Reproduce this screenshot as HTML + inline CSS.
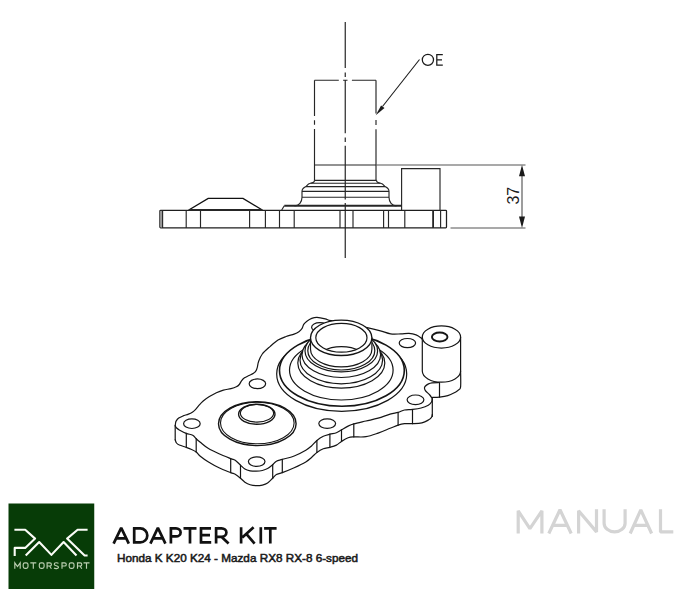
<!DOCTYPE html>
<html><head><meta charset="utf-8">
<style>
html,body{margin:0;padding:0;background:#fff;width:686px;height:600px;overflow:hidden}
svg{position:absolute;left:0;top:0}
</style></head>
<body>
<svg width="686" height="600" viewBox="0 0 686 600">
<defs>
<clipPath id="boreclip"><ellipse cx="341.4" cy="337.8" rx="25.6" ry="14.4"/></clipPath>
</defs>
<!-- ============ TOP 2D VIEW ============ -->
<g fill="none" stroke="#262626" stroke-width="1.15">
  <path d="M345.25 22V68M345.25 72.5V77M345.25 80V133.3M345.25 137.5V142M345.25 145.8V199.5M345.25 203V258" stroke-width="1.2"/>
  <path d="M314.5 80.2H338.8M343.1 80.2H347.5M351.9 80.2H376"/>
  <path d="M314.5 80.2V116.1M314.5 120.2V124.8M314.5 128.9V180.3"/>
  <path d="M376 80.2V113.4M376 120.1V125.1M376 129.2V180.3"/>
  <path d="M314.5 165H376"/><path d="M376 165H525.5" stroke="#555"/>
  <path d="M314.5 180.3H376.5M310.5 183.2H380.5M306 186.6H385M302 191.4H389M302 197.2H389"/>
  <path d="M314.5 180.3C314.5 182 313 183 310.5 183.2C308 183.5 307 185.5 306 186.6C303 188 302 190 302 191.4V197.2C302 202 299 205.8 294.5 205.8"/>
  <path d="M376.5 180.3C376.5 182 378 183 380.5 183.2C383 183.5 384 185.5 385 186.6C388 188 389 190 389 191.4V197.2C389 202 392 205.8 396.5 205.8"/>
  <path d="M284.3 205.8H401.6" stroke-width="2"/>
  <path d="M281.7 210L284.3 205.8"/>
  <rect x="159.9" y="210.3" width="286.6" height="17.6" rx="0.8" stroke="#1e1e1e" stroke-width="1.25"/>
  <path d="M162.6 210.3V227.9"/>
  <path d="M186.2 210V228M200.5 210V228M249.6 210V228M265.4 210V228M279.5 210V228M294.2 210V228M340 210V228M353 210V228M383.6 210V228M388.5 210V228M404.8 210V228M440.6 210V228"/>
  <path d="M433.1 210V228" stroke-width="1.8"/>
  <path d="M188.8 210L208.2 198.4H243L262.3 210" stroke="#111" stroke-width="1.4"/>
  <path d="M188.8 210H262.3" stroke-width="2"/>
  <path d="M401.6 210V168.6H440V210"/>
  <path d="M450.5 228H525.5" stroke="#555"/>
  <path d="M522 175V218" stroke="#555"/>
</g>
<rect x="160.5" y="210.9" width="1.5" height="16.4" fill="#999"/>
<g fill="#1a1a1a">
  <path d="M522 165L519 176.2H525Z"/>
  <path d="M522 228L519 216.5H525Z"/>
  <path d="M375.75 115.25L381.1 105.5L384.5 107.9Z"/>
</g>
<path d="M419.5 59.5L382.5 106.5" stroke="#1a1a1a" stroke-width="1.1" fill="none"/>
<g fill="none" stroke="#1a1a1a" stroke-width="1.25"><ellipse cx="427.9" cy="59.85" rx="5.6" ry="5.6"/><path d="M442.8 54.7H436.8V65H442.8M436.8 59.8H442"/></g>
<text transform="translate(518.7 204.6) rotate(-90)" font-family="Liberation Sans, sans-serif" font-size="16" fill="#1a1a1a">37</text>

<!-- ============ 3D VIEW ============ -->
<g fill="#fff" stroke="#151515" stroke-width="1.2" stroke-linejoin="round" stroke-linecap="round">
  <path fill="none" d="M175.20 439.80C175.42 440.33 175.82 442.13 176.50 443.00C177.18 443.87 177.67 444.27 179.30 445.00C180.93 445.73 184.35 446.70 186.30 447.40C188.25 448.10 189.35 448.43 191.00 449.20C192.65 449.97 194.65 450.83 196.20 452.00C197.75 453.17 198.25 454.53 200.30 456.20C202.35 457.87 205.38 460.07 208.50 462.00C211.62 463.93 215.30 466.03 219.00 467.80C222.70 469.57 228.00 471.52 230.70 472.60C233.40 473.68 233.57 473.37 235.20 474.30C236.83 475.23 238.88 476.88 240.50 478.20C242.12 479.52 243.30 481.10 244.90 482.20C246.50 483.30 248.22 484.22 250.10 484.80C251.98 485.38 254.15 485.65 256.20 485.70C258.25 485.75 260.50 485.53 262.40 485.10C264.30 484.67 265.88 484.25 267.60 483.10C269.32 481.95 271.23 479.63 272.70 478.20C274.17 476.77 274.80 475.43 276.40 474.50C278.00 473.57 279.33 473.73 282.30 472.60C285.27 471.47 290.28 469.48 294.20 467.70C298.12 465.92 302.92 463.60 305.80 461.90C308.68 460.20 309.65 459.08 311.50 457.50C313.35 455.92 314.93 453.87 316.90 452.40C318.87 450.93 321.13 449.55 323.30 448.70C325.47 447.85 327.72 447.90 329.90 447.30C332.08 446.70 334.47 446.08 336.40 445.10C338.33 444.12 339.55 442.62 341.50 441.40C343.45 440.18 346.05 438.55 348.10 437.80C350.15 437.05 350.82 437.08 353.80 436.90C356.78 436.72 361.95 437.33 366.00 436.70C370.05 436.07 374.08 434.50 378.10 433.10C382.12 431.70 386.77 429.63 390.10 428.30C393.43 426.97 395.70 425.87 398.10 425.10C400.50 424.33 402.10 423.93 404.50 423.70C406.90 423.47 409.60 423.83 412.50 423.70C415.40 423.57 419.27 423.50 421.90 422.90C424.53 422.30 426.70 421.03 428.30 420.10C429.90 419.17 430.83 418.23 431.50 417.30C432.17 416.37 432.17 414.97 432.30 414.50"/>
  <path fill="none" d="M175.20 425.80C175.43 426.17 175.92 427.32 176.60 428.00C177.28 428.68 177.68 429.00 179.30 429.90C180.92 430.80 184.07 432.52 186.30 433.40C188.53 434.28 191.05 434.32 192.70 435.20C194.35 436.08 194.93 437.53 196.20 438.70C197.47 439.87 198.25 440.55 200.30 442.20C202.35 443.85 205.38 446.67 208.50 448.60C211.62 450.53 215.30 452.13 219.00 453.80C222.70 455.47 228.00 457.52 230.70 458.60C233.40 459.68 233.57 459.22 235.20 460.30C236.83 461.38 238.88 463.63 240.50 465.10C242.12 466.57 243.30 468.15 244.90 469.10C246.50 470.05 248.22 470.45 250.10 470.80C251.98 471.15 254.15 471.25 256.20 471.20C258.25 471.15 260.50 470.93 262.40 470.50C264.30 470.07 265.88 469.57 267.60 468.60C269.32 467.63 271.23 465.93 272.70 464.70C274.17 463.47 274.80 462.08 276.40 461.20C278.00 460.32 279.33 460.27 282.30 459.40C285.27 458.53 290.28 457.53 294.20 456.00C298.12 454.47 302.92 451.87 305.80 450.20C308.68 448.53 309.65 447.62 311.50 446.00C313.35 444.38 314.93 442.12 316.90 440.50C318.87 438.88 321.13 437.35 323.30 436.30C325.47 435.25 327.72 434.80 329.90 434.20C332.08 433.60 334.47 433.43 336.40 432.70C338.33 431.97 339.55 430.90 341.50 429.80C343.45 428.70 346.05 427.08 348.10 426.10C350.15 425.12 350.82 424.75 353.80 423.90C356.78 423.05 361.95 421.95 366.00 421.00C370.05 420.05 374.08 419.33 378.10 418.20C382.12 417.07 386.77 415.18 390.10 414.20C393.43 413.22 395.70 413.00 398.10 412.30C400.50 411.60 402.10 410.48 404.50 410.00C406.90 409.52 409.73 409.73 412.50 409.40C415.27 409.07 418.47 408.70 421.10 408.00C423.73 407.30 426.57 406.20 428.30 405.20C430.03 404.20 430.83 403.07 431.50 402.00C432.17 400.93 432.17 399.33 432.30 398.80"/>
  <path fill="none" d="M175.20 425.80V439.80M186.30 433.40V447.40M196.20 438.70V452.00M230.70 458.60V472.60M240.50 465.10V478.20M272.70 464.70V478.20M282.30 459.40V472.60M316.90 440.50V452.40M329.90 434.20V447.30M341.50 429.80V441.40M353.80 423.90V436.90M398.10 412.50V425.30M412.50 409.60V423.70M432.30 398.80V416.50M439.50 382.50V397.20"/>
  <path fill="none" d="M175.20 425.80C175.27 425.33 175.45 423.78 175.60 423.00C175.75 422.22 175.58 421.92 176.10 421.10C176.62 420.28 177.53 418.97 178.70 418.10C179.87 417.23 181.48 416.57 183.10 415.90C184.72 415.23 186.80 414.77 188.40 414.10C190.00 413.43 191.53 412.63 192.70 411.90C193.87 411.17 194.37 410.78 195.40 409.70C196.43 408.62 197.60 406.85 198.90 405.40C200.20 403.95 201.45 402.47 203.20 401.00C204.95 399.53 207.20 397.98 209.40 396.60C211.60 395.22 214.07 393.78 216.40 392.70C218.73 391.62 220.97 390.78 223.40 390.10C225.83 389.42 228.85 389.15 231.00 388.60C233.15 388.05 234.92 387.48 236.30 386.80C237.68 386.12 238.43 385.50 239.30 384.50C240.17 383.50 240.63 381.92 241.50 380.80C242.37 379.68 243.25 378.68 244.50 377.80C245.75 376.92 247.50 376.25 249.00 375.50C250.50 374.75 252.32 374.12 253.50 373.30C254.68 372.48 255.47 371.60 256.10 370.60C256.73 369.60 256.88 368.82 257.30 367.30C257.72 365.78 257.77 363.72 258.60 361.50C259.43 359.28 260.40 356.48 262.30 354.00C264.20 351.52 267.38 348.92 270.00 346.60C272.62 344.28 275.32 341.78 278.00 340.10C280.68 338.42 283.42 337.50 286.10 336.50C288.78 335.50 291.97 334.90 294.10 334.10C296.23 333.30 297.57 332.65 298.90 331.70C300.23 330.75 301.30 329.62 302.10 328.40C302.90 327.18 302.90 325.60 303.70 324.40C304.50 323.20 305.57 322.20 306.90 321.20C308.23 320.20 310.02 319.03 311.70 318.40C313.38 317.77 314.75 317.33 317.00 317.40C319.25 317.47 322.87 318.25 325.20 318.80C327.53 319.35 326.87 319.83 331.00 320.70C335.13 321.57 343.80 322.82 350.00 324.00C356.20 325.18 363.13 326.67 368.20 327.80C373.27 328.93 376.67 329.78 380.40 330.80C384.13 331.82 387.20 333.38 390.60 333.90C394.00 334.42 397.73 333.98 400.80 333.90C403.87 333.82 406.45 333.23 409.00 333.40C411.55 333.57 414.07 334.13 416.10 334.90C418.13 335.67 420.17 337.23 421.20 338.00C422.23 338.77 422.12 339.25 422.30 339.50"/>
  <path fill="none" d="M460.60 371.00C460.60 373.65 460.95 383.73 460.60 386.90C460.25 390.07 459.30 389.15 458.50 390.00C457.70 390.85 457.58 391.07 455.80 392.00C454.02 392.93 450.53 394.75 447.80 395.60C445.07 396.45 441.95 396.80 439.40 397.10C436.85 397.40 433.65 397.35 432.50 397.40"/>
  <path fill="none" d="M439.50 382.50C438.25 382.55 433.83 382.57 432.00 382.80C430.17 383.03 429.67 383.28 428.50 383.90C427.33 384.52 425.67 385.73 425.00 386.50C424.33 387.27 424.38 387.75 424.50 388.50C424.62 389.25 424.82 389.92 425.70 391.00C426.58 392.08 428.70 393.70 429.80 395.00C430.90 396.30 431.88 398.17 432.30 398.80"/>
  <ellipse cx="191.9" cy="423.7" rx="8.3" ry="4.8"/>
  <ellipse cx="257.4" cy="383.8" rx="8.25" ry="4.85"/>
  <ellipse cx="256.7" cy="461.6" rx="8.3" ry="4.8"/>
  <ellipse cx="327.2" cy="423.6" rx="8.4" ry="4.8"/>
  <ellipse cx="319.8" cy="327.3" rx="8.2" ry="4.7"/>
  <ellipse cx="407.4" cy="343.1" rx="8.2" ry="4.6"/>
  <ellipse cx="415.5" cy="399.8" rx="8.4" ry="4.8"/>
  <ellipse cx="257.3" cy="423.65" rx="38.8" ry="21.95" stroke-width="1.4"/>
  <ellipse cx="257.3" cy="423" rx="36.8" ry="20.8" fill="none" stroke-width="1.1"/>
  <ellipse cx="256.8" cy="414.2" rx="18.2" ry="10" stroke-width="1.4"/>
  <ellipse cx="257" cy="413.3" rx="16.6" ry="8.8" fill="none" stroke-width="1.1"/>
  <ellipse cx="341.7" cy="374" rx="65" ry="37.3"/>
  <ellipse cx="341.9" cy="370.4" rx="62.4" ry="35.8" stroke-width="1.6"/>
  <ellipse cx="341.3" cy="370.1" rx="51.8" ry="29.9"/>
  <ellipse cx="341.3" cy="363" rx="43.5" ry="25.1"/>
  <ellipse cx="341.3" cy="360" rx="41.3" ry="23.8"/>
  <ellipse cx="341.3" cy="354.8" rx="39.3" ry="22.7"/>
  <ellipse cx="341.3" cy="350.9" rx="36.3" ry="21"/>
  <ellipse cx="341.3" cy="350.7" rx="33.5" ry="19.3"/>
  <path d="M310.5 337.8V349.2A30.7 17.7 0 0 0 371.9 349.2V337.8Z"/>
  <ellipse cx="341.2" cy="337.8" rx="30.7" ry="17.7" stroke-width="1.35"/>
  <ellipse cx="341.4" cy="337.8" rx="25.6" ry="14.4"/>
  <ellipse cx="341.4" cy="361.1" rx="25.6" ry="14.4" fill="none" clip-path="url(#boreclip)"/>
  <path d="M422.3 337V371.1A19.15 11.1 0 0 0 460.6 371.1V337Z"/>
  <ellipse cx="441.45" cy="337" rx="19.15" ry="11.1"/>
  <ellipse cx="439.7" cy="337" rx="7.8" ry="4.5" stroke-width="1.9"/>
</g>

<!-- ============ FOOTER ============ -->
<rect x="8.5" y="503.5" width="85.75" height="85.5" fill="#073c07"/>
<g fill="none" stroke="#fbfdf8" stroke-width="2.1" stroke-linejoin="round">
  <path d="M14.4 529.8H25.2L35.1 538.6L25.2 547.9H14.7V556"/>
  <path d="M25.7 555.5L39.2 542L51.4 554.9L63.6 542L76.5 555.5"/>
  <path d="M87.6 529.8H77.6L67.1 538.6L84.6 555.5H87.6"/>
</g>
<g fill="none" stroke="#bccfb2" stroke-width="1.15">
  <path d="M14.8 568.8V562.8L17.5 566.6L20.2 562.8V568.8"/>
  <rect x="23.2" y="562.8" width="4.8" height="5.5" rx="1.8"/>
  <path d="M30.3 562.8H36.3M33.3 562.8V568.8"/>
  <rect x="39.3" y="562.8" width="4.8" height="5.5" rx="1.8"/>
  <path d="M47.1 568.8V562.8H49.8A1.6 1.6 0 0 1 49.8 566H47.1M49.6 566L51.4 568.8"/>
  <path d="M58.5 563.4C57.6 562.6 54.2 562.3 54.2 564.3C54.2 566 58.5 565.4 58.5 567.2C58.5 569 55 568.8 54 568"/>
  <path d="M62 568.8V562.8H64.6A1.7 1.6 0 0 1 64.6 566H62"/>
  <rect x="69.2" y="562.8" width="4.8" height="5.5" rx="1.8"/>
  <path d="M77.5 568.8V562.8H80.2A1.6 1.6 0 0 1 80.2 566H77.5M80 566L81.8 568.8"/>
  <path d="M83.5 562.8H89.5M86.5 562.8V568.8"/>
</g>
<g fill="none" stroke="#111" stroke-width="2.7" stroke-linejoin="bevel">
  <path d="M113.6 543.6L121.2 527.9L128.8 543.6M116.6 538.3H125.8"/>
  <path d="M134.2 527.2V543.6M133 528.4H140.3A7 7 0 0 1 140.3 542.4H133"/>
  <path d="M150.4 543.6L157.9 527.9L165.4 543.6M153.4 538.3H162.4"/>
  <path d="M170.9 527.2V543.6M169.7 528.4H176A4.6 4 0 0 1 176 536.4H169.7"/>
  <path d="M183.5 528.4H196.5M190 528.4V543.6"/>
  <path d="M201 527.2V543.6M199.8 528.4H211M199.8 535.2H210M199.8 542.4H211.2"/>
  <path d="M216.1 527.2V543.6M214.9 528.4H221.6A4.8 4.2 0 0 1 221.6 536.8H214.9M221.4 536.8L228.6 543.6"/>
  <path d="M241.1 527.2V543.6M253.6 527.2L242.3 537.6M246.3 533.9L254.6 543.6"/>
  <path d="M260.8 527.2V543.6"/>
  <path d="M264.1 528.4H276.6M270.3 528.4V543.6"/>
</g>
<text transform="translate(117 562.2) scale(1.076 1)" font-family="Liberation Sans, sans-serif" font-size="10.9" fill="#1a1a1a" stroke="#1a1a1a" stroke-width="0.5">Honda K K20 K24 - Mazda RX8 RX-8 6-speed</text>
<g fill="none" stroke="#d4d4d4" stroke-width="3.2" stroke-linejoin="bevel">
  <path d="M518.2 533.5V510.8L529.9 528.6L541.9 510.8V533.5"/>
  <path d="M548.8 533.5L560 509.8L571.2 533.5M552.6 525.3H567.4"/>
  <path d="M578.6 533.5V510.8L596.5 531.9V509.2" stroke-linejoin="bevel"/>
  <path d="M604.1 509.2V523.2A10.5 8.7 0 0 0 625.1 523.2V509.2"/>
  <path d="M630.2 533.5L640.8 509.8L651.6 533.5M634 525.3H647.6"/>
  <path d="M660.5 509.2V531.9H673.3"/>
</g>
</svg>
</body></html>
